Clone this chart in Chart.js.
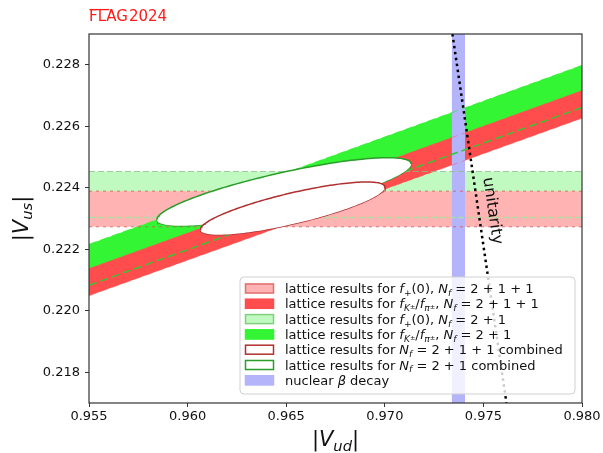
<!DOCTYPE html>
<html>
<head>
<meta charset="utf-8">
<script src="https://cdn.jsdelivr.net/npm/chart.js@4.4.1/dist/chart.umd.min.js"></script>
<style>
  html, body { margin: 0; padding: 0; background: #fff; }
  #wrap { width: 603px; height: 453px; }
</style>
</head>
<body>
<div id="wrap"><canvas id="flagChart" width="603" height="453"></canvas></div>
<script>
// axis ranges and ticks
const xRange = [0.955, 0.980];
const yRange = [0.217, 0.229];
const xTicks = [0.955, 0.960, 0.965, 0.970, 0.975, 0.980];
const yTicks = [0.218, 0.220, 0.222, 0.224, 0.226, 0.228];

// f+(0) bands, |Vus| lower / upper
const fplus2111 = [0.22273, 0.22389];
const fplus21 = [0.22303, 0.22453];

// fK/fpi bands, |Vus| of each edge at the two ends of the |Vud| range
const bandEndsX = [0.955, 0.980];
const fkpi2111Low = [0.22049, 0.22626];
const fkpi2111High = [0.22137, 0.22716];
const fkpi21Low = [0.22083, 0.22661];
const fkpi21High = [0.22216, 0.22798];

// nuclear beta decay, |Vud| lower / upper
const betaDecay = [0.97339, 0.97407];

// unitarity line
const unitarityX = [0.97343, 0.97480, 0.97617];
const unitarityY = [0.229, 0.223, 0.217];

// combined fits: centre, semi-major offset, semi-minor offset (Vud, Vus)
const ell21Centre = [0.96489, 0.22387];
const ell21Major = [0.00644, 0.000924];
const ell21Minor = [0.000214, -0.000610];
const ell2111Centre = [0.96533, 0.22333];
const ell2111Major = [0.004675, 0.000707];
const ell2111Minor = [0.000180, -0.000486];

const colLightRed = '#ffb3b3';
const colRed = '#ff4d4d';
const colLightGreen = '#c0fac0';
const colGreen = '#33f533';
const colBlue = 'rgb(180,180,250)';
const NONE = 'rgba(0,0,0,0)';

const pts = (xs, ys) => xs.map((x, i) => ({x: x, y: ys[i]}));
const flat = (v) => pts(xRange, [v, v]);

// two x-monotonic halves of an ellipse so the filler can close it
function ellipseHalves(c, a, b, n) {
  const t0 = Math.atan2(b[0], a[0]);
  const at = t => ({
    x: c[0] + a[0] * Math.cos(t) + b[0] * Math.sin(t),
    y: c[1] + a[1] * Math.cos(t) + b[1] * Math.sin(t)
  });
  const one = [], two = [];
  for (let i = 0; i <= n; i++) {
    one.push(at(t0 + Math.PI + Math.PI * i / n));
    two.push(at(t0 + Math.PI - Math.PI * i / n));
  }
  return [one, two];
}
const e21 = ellipseHalves(ell21Centre, ell21Major, ell21Minor, 90);
const e2111 = ellipseHalves(ell2111Centre, ell2111Major, ell2111Minor, 90);

function area(data, bg, fillTo, order) {
  return {data: data, backgroundColor: bg, borderColor: NONE, borderWidth: 0, fill: fillTo, order: order};
}
function edge(data, color, dash, width, order) {
  return {data: data, borderColor: color, borderWidth: width, borderDash: dash, fill: false, order: order};
}

const datasets = [
  area(flat(fplus21[1]), colLightGreen, 1, 100),            // 0
  area(flat(fplus21[0]), NONE, false, 100),                  // 1
  area(flat(fplus2111[1]), colLightRed, 3, 90),              // 2
  area(flat(fplus2111[0]), NONE, false, 90),                 // 3
  area(pts(bandEndsX, fkpi21High), colGreen, 5, 80),         // 4
  area(pts(bandEndsX, fkpi21Low), NONE, false, 80),          // 5
  area(pts(bandEndsX, fkpi2111High), colRed, 7, 70),         // 6
  area(pts(bandEndsX, fkpi2111Low), NONE, false, 70),        // 7
  area(pts(betaDecay, [yRange[1], yRange[1]]), colBlue, 'start', 60), // 8
  edge(flat(fplus21[1]), 'rgba(140,190,140,0.8)', [6, 3], 1, 50),
  edge(flat(fplus21[0]), 'rgba(170,225,160,0.9)', [6, 3], 1.5, 50),
  edge(flat(fplus2111[1]), 'rgba(215,80,80,0.75)', [3, 4], 1, 50),
  edge(flat(fplus2111[0]), 'rgba(215,80,80,0.75)', [3, 4], 1, 50),
  edge(pts(bandEndsX, fkpi21High), 'rgba(51,235,51,0.7)', [8, 4], 1, 50),
  edge(pts(bandEndsX, fkpi21Low), 'rgba(50,200,50,0.95)', [8, 4], 1.5, 50),
  edge(pts(bandEndsX, fkpi2111High), 'rgba(255,90,90,0.5)', [8, 4], 1, 50),
  edge(pts(bandEndsX, fkpi2111Low), 'rgba(255,90,90,0.5)', [8, 4], 1, 50),
  edge(pts(unitarityX, unitarityY), '#000', [2.5, 3.5], 2.5, 40),
  {data: e21[0], backgroundColor: '#fff', borderColor: '#2a9d2a', borderWidth: 1.5, fill: 19, order: 30}, // 18
  {data: e21[1], borderColor: '#2a9d2a', borderWidth: 1.5, fill: false, order: 30},                      // 19
  {data: e2111[0], backgroundColor: '#fff', borderColor: '#b03030', borderWidth: 1.5, fill: 21, order: 20},
  {data: e2111[1], borderColor: '#b03030', borderWidth: 1.5, fill: false, order: 20}
];

// legend entries: patch fill, patch edge, label parts
const T = t => ({t: t});
const I = t => ({t: t, i: true});
const SUB = (t, it) => ({t: t, i: it, s: 0.7, dy: 0.22});
const SS = t => ({t: t, s: 0.5, dy: 0.08});
const fplusParts = [I('f'), SUB('+', false), T('(0), ')];
const ratioParts = [I('f'), SUB('K', true), SS('\u00b1'), T('/'), I('f'), SUB('\u03c0', true), SS('\u00b1'), T(', ')];
const nf = [I('N'), SUB('f', true)];
const legendRows = [
  [colLightRed, '#e07070', [T('lattice results for ')].concat(fplusParts, nf, [T(' = 2 + 1 + 1')])],
  [colRed, colRed, [T('lattice results for ')].concat(ratioParts, nf, [T(' = 2 + 1 + 1')])],
  [colLightGreen, '#80d080', [T('lattice results for ')].concat(fplusParts, nf, [T(' = 2 + 1')])],
  [colGreen, colGreen, [T('lattice results for ')].concat(ratioParts, nf, [T(' = 2 + 1')])],
  ['#fff', '#b03030', [T('lattice results for ')].concat(nf, [T(' = 2 + 1 + 1 combined')])],
  ['#fff', '#2a9d2a', [T('lattice results for ')].concat(nf, [T(' = 2 + 1 combined')])],
  [colBlue, colBlue, [T('nuclear '), I('\u03b2'), T(' decay')]]
];

function fontFor(p, size) {
  return (p.i ? 'italic ' : '') + (size * (p.s || 1)).toFixed(2) + 'px "DejaVu Sans"';
}
function richWidth(ctx, parts, size) {
  let w = 0;
  parts.forEach(p => { ctx.font = fontFor(p, size); w += ctx.measureText(p.t).width; });
  return w;
}
function drawRich(ctx, parts, x, y, size) {
  let cx = x;
  parts.forEach(p => {
    ctx.font = fontFor(p, size);
    ctx.fillText(p.t, cx, y + (p.dy || 0) * size);
    cx += ctx.measureText(p.t).width;
  });
}

const decor = {
  id: 'decor',
  afterDraw(chart) {
    const {ctx, chartArea: a, scales: {x, y}} = chart;
    ctx.save();
    ctx.textAlign = 'left';
    ctx.textBaseline = 'alphabetic';

    // unitarity label along the line
    const p0 = {x: x.getPixelForValue(unitarityX[0]), y: y.getPixelForValue(unitarityY[0])};
    const p1 = {x: x.getPixelForValue(unitarityX[2]), y: y.getPixelForValue(unitarityY[2])};
    ctx.save();
    ctx.translate(x.getPixelForValue(0.97545), y.getPixelForValue(0.22325));
    ctx.rotate(Math.atan2(p1.y - p0.y, p1.x - p0.x));
    ctx.font = '16px "DejaVu Sans"';
    ctx.fillStyle = '#111';
    ctx.textAlign = 'center';
    ctx.textBaseline = 'middle';
    ctx.fillText('unitarity', 0, 0);
    ctx.restore();

    // frame
    ctx.strokeStyle = '#333';
    ctx.lineWidth = 1.2;
    ctx.strokeRect(a.left, a.top, a.right - a.left, a.bottom - a.top);

    // legend
    const lx = 240, ly = 277, lw = 335, lh = 117;
    ctx.beginPath();
    ctx.roundRect(lx, ly, lw, lh, 4);
    ctx.fillStyle = 'rgba(255,255,255,0.8)';
    ctx.fill();
    ctx.strokeStyle = '#d0d0d0';
    ctx.lineWidth = 1;
    ctx.stroke();
    legendRows.forEach((row, i) => {
      const cy = 288.5 + i * 15.3;
      ctx.fillStyle = row[0];
      ctx.fillRect(245, cy - 5, 29, 10);
      ctx.strokeStyle = row[1];
      ctx.lineWidth = 1.5;
      ctx.strokeRect(245.5, cy - 4.5, 28, 9);
      ctx.fillStyle = '#111';
      drawRich(ctx, row[2], 285, cy + 4.6, 13);
    });

    // axis titles
    const xt = [T('|'), I('V'), SUB('ud', true), T('|')];
    const yt = [T('|'), I('V'), SUB('us', true), T('|')];
    ctx.fillStyle = '#111';
    const wx = richWidth(ctx, xt, 21);
    drawRich(ctx, xt, (a.left + a.right) / 2 - wx / 2, 446, 21);
    ctx.save();
    ctx.translate(21, (a.top + a.bottom) / 2);
    ctx.rotate(-Math.PI / 2);
    const wy = richWidth(ctx, yt, 21);
    drawRich(ctx, yt, -wy / 2, 6.5, 21);
    ctx.restore();

    // FLAG2024 mark
    ctx.fillStyle = '#ff1a1a';
    ctx.strokeStyle = '#ff1a1a';
    ctx.font = '15px "DejaVu Sans"';
    ctx.fillText('FLAG', a.left, 20.5);
    const wf = ctx.measureText('FLAG').width;
    const wfl = ctx.measureText('FL').width;
    ctx.fillText('2024', a.left + wf + 1, 20.5);
    ctx.lineWidth = 1.3;
    ctx.beginPath();
    ctx.moveTo(a.left + 0.5, 9.6);
    ctx.lineTo(a.left + wfl + 3, 9.6);
    ctx.stroke();
    ctx.restore();
  }
};

Chart.defaults.font.family = '"DejaVu Sans"';
Chart.defaults.font.size = 13;
Chart.defaults.color = '#111';

new Chart(document.getElementById('flagChart'), {
  type: 'line',
  data: {datasets: datasets},
  options: {
    responsive: false,
    animation: false,
    events: [],
    layout: {padding: {top: 34, right: 21, left: 0, bottom: 0}},
    elements: {point: {radius: 0, hoverRadius: 0}, line: {tension: 0}},
    plugins: {legend: {display: false}, tooltip: {enabled: false}},
    scales: {
      x: {
        type: 'linear',
        min: xRange[0], max: xRange[1],
        afterBuildTicks: s => { s.ticks = xTicks.map(v => ({value: v})); },
        afterFit: s => { s.height = 50; },
        ticks: {autoSkip: false, maxRotation: 0, padding: 2, callback: v => v.toFixed(3)},
        grid: {drawOnChartArea: false, tickLength: 4, color: '#333'},
        border: {display: false}
      },
      y: {
        type: 'linear',
        min: yRange[0], max: yRange[1],
        afterBuildTicks: s => { s.ticks = yTicks.map(v => ({value: v})); },
        afterFit: s => { s.width = 89; },
        ticks: {autoSkip: false, padding: 5, callback: v => v.toFixed(3)},
        grid: {drawOnChartArea: false, tickLength: 4, color: '#333'},
        border: {display: false}
      }
    }
  },
  plugins: [decor]
});
</script>
</body>
</html>
